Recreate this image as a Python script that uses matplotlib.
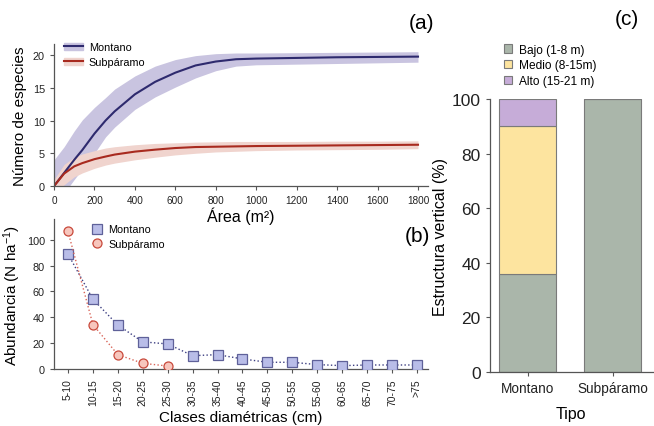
import matplotlib
matplotlib.use('Agg')
import matplotlib.pyplot as plt
from matplotlib.patches import Patch
from matplotlib.lines import Line2D
import numpy as np

plt.rc('font', family=['Liberation Sans', 'DejaVu Sans'])
plt.rc('mathtext', fontset='custom', rm='Liberation Sans', it='Liberation Sans:italic')

# (a) curvas de acumulacion de especies
area = [0, 50, 100, 140, 200, 255, 300, 400, 500, 600, 700, 800, 900, 1000, 1200, 1400, 1600, 1800]
mont = [0, 2.0, 4.0, 5.5, 8.0, 10.0, 11.4, 14.0, 15.9, 17.3, 18.4, 19.0, 19.35, 19.45, 19.55, 19.65, 19.7, 19.75]
mont_lo = [-3, -1.1, 1.0, 2.6, 5.0, 7.5, 9.0, 11.7, 13.6, 15.1, 16.5, 17.6, 18.3, 18.5, 18.6, 18.7, 18.8, 18.9]
mont_hi = [4, 6.0, 8.4, 10.1, 12.0, 13.5, 14.8, 16.8, 18.3, 19.3, 19.9, 20.2, 20.3, 20.3, 20.35, 20.4, 20.45, 20.5]
subp = [0, 1.9, 3.0, 3.5, 4.1, 4.5, 4.8, 5.25, 5.55, 5.8, 5.95, 6.0, 6.05, 6.1, 6.15, 6.2, 6.25, 6.3]
subp_lo = [-1, 0.2, 1.4, 2.0, 2.7, 3.2, 3.5, 4.0, 4.4, 4.75, 5.0, 5.2, 5.3, 5.4, 5.5, 5.55, 5.6, 5.7]
subp_hi = [1, 3.3, 4.4, 4.9, 5.4, 5.8, 6.0, 6.3, 6.5, 6.6, 6.7, 6.75, 6.8, 6.8, 6.8, 6.85, 6.85, 6.9]

# (b) abundancia por clase diametrica
clases = ['5-10', '10-15', '15-20', '20-25', '25-30', '30-35', '35-40', '40-45',
          '45-50', '50-55', '55-60', '60-65', '65-70', '70-75', '>75']
ab_mont = [89, 54, 34, 21, 19.4, 10.3, 11.1, 7.8, 5.2, 5.2, 3.4, 2.6, 3.1, 3.1, 3.1]
ab_subp = [106.5, 34.4, 11.1, 4.4, 2.3]

# (c) estructura vertical
tipos = ['Montano', 'Subpáramo']
bajo = [36, 100]
medio = [54, 0]
alto = [10, 0]

c_mont, c_mont_f = '#2e2a6e', '#c9c4e0'
c_subp, c_subp_f = '#a82a1f', '#f0d4ce'
gris = '#555555'

def estilo(ax, lab=7.8):
    for s in ['top', 'right']:
        ax.spines[s].set_visible(False)
    for s in ['left', 'bottom']:
        ax.spines[s].set_color(gris)
        ax.spines[s].set_linewidth(0.9)
    ax.tick_params(colors=gris, labelcolor='#222222', length=3, width=0.8, labelsize=lab)
    ax.patch.set_visible(False)

fig = plt.figure(figsize=(6.54, 4.27), dpi=100)

# ---- (a)
ax1 = fig.add_axes([0.0826, 0.562, 0.572, 0.333])
ax1.fill_between(area, mont_lo, mont_hi, color=c_mont_f, lw=0)
ax1.fill_between(area, subp_lo, subp_hi, color=c_subp_f, lw=0)
ax1.plot(area, mont, color=c_mont, lw=1.5)
ax1.plot(area, subp, color=c_subp, lw=1.5)
ax1.set_xlim(0, 1850)
ax1.set_ylim(0, 21.7)
ax1.set_xticks(range(0, 1801, 200))
ax1.set_yticks([0, 5, 10, 15, 20])
estilo(ax1)
ax1.tick_params(axis='x', labelsize=7.2)
ax1.set_xlabel('Área (m²)', fontsize=11.5, labelpad=1)
ax1.set_ylabel('Número de especies', fontsize=11, labelpad=4)
h1 = (Patch(color=c_mont_f), Line2D([], [], color=c_mont, lw=1.5))
h2 = (Patch(color=c_subp_f), Line2D([], [], color=c_subp, lw=1.5))
ax1.legend([h1, h2], ['Montano', 'Subpáramo'], loc='upper left', bbox_to_anchor=(0.0, 1.08),
           frameon=False, fontsize=7.8, handlelength=1.8, handletextpad=0.5, labelspacing=0.45)
fig.text(0.645, 0.945, '(a)', fontsize=15, ha='center', va='center')

# ---- (b)
ax2 = fig.add_axes([0.0826, 0.1335, 0.572, 0.351])
x = np.arange(len(clases))
ax2.plot(x, ab_mont, ls=':', color='#3d3f82', lw=1.0, marker='s', ms=6.5,
         mfc='#b9bde8', mec='#5f6199', mew=0.9, label='Montano', zorder=3)
ax2.plot(x[:len(ab_subp)], ab_subp, ls=':', color='#d9665a', lw=1.0, marker='o', ms=6.5,
         mfc='#f7c6bd', mec='#c8493b', mew=0.9, label='Subpáramo', zorder=4)
ax2.set_xlim(-0.56, 14.45)
ax2.set_ylim(0, 116)
ax2.set_xticks(x)
ax2.set_xticklabels(clases, rotation=90)
ax2.set_yticks([0, 20, 40, 60, 80, 100])
estilo(ax2)
ax2.tick_params(axis='x', labelsize=7.5)
ax2.set_xlabel('Clases diamétricas (cm)', fontsize=11, labelpad=4)
ax2.set_ylabel('Abundancia (N ha$^{-1}$)', fontsize=11, labelpad=3)
ax2.legend(loc='upper left', bbox_to_anchor=(0.075, 1.03), frameon=False, fontsize=7.8,
           handlelength=1.0, handletextpad=0.5, labelspacing=0.45, numpoints=1)
fig.text(0.638, 0.445, '(b)', fontsize=15, ha='center', va='center')

# ---- (c)
ax3 = fig.add_axes([0.749, 0.1265, 0.249, 0.639])
xc = np.arange(len(tipos))
ec = '#7a7a7a'
ax3.bar(xc, bajo, 0.67, color='#aab6aa', edgecolor=ec, lw=0.8, label='Bajo (1-8 m)')
ax3.bar(xc, medio, 0.67, bottom=bajo, color='#fde49f', edgecolor=ec, lw=0.8, label='Medio (8-15m)')
ax3.bar(xc[:1], alto[:1], 0.67, bottom=[bajo[0] + medio[0]], color='#c6acd8', edgecolor=ec, lw=0.8,
        label='Alto (15-21 m)')
ax3.set_xlim(-0.447, 1.47)
ax3.set_ylim(0, 100)
ax3.set_xticks(xc)
ax3.set_xticklabels(tipos)
ax3.set_yticks([0, 20, 40, 60, 80, 100])
estilo(ax3, lab=12.5)
ax3.tick_params(axis='x', labelsize=9.8)
ax3.set_xlabel('Tipo', fontsize=11.5, labelpad=8)
ax3.set_ylabel('Estructura vertical (%)', fontsize=11.5, labelpad=3)
ax3.legend(loc='lower left', bbox_to_anchor=(0.02, 1.005), frameon=False, fontsize=8.6,
           handlelength=0.7, handleheight=0.7, handletextpad=0.6, labelspacing=0.3)
fig.text(0.958, 0.955, '(c)', fontsize=15, ha='center', va='center')

plt.savefig('out.png', dpi=100)
